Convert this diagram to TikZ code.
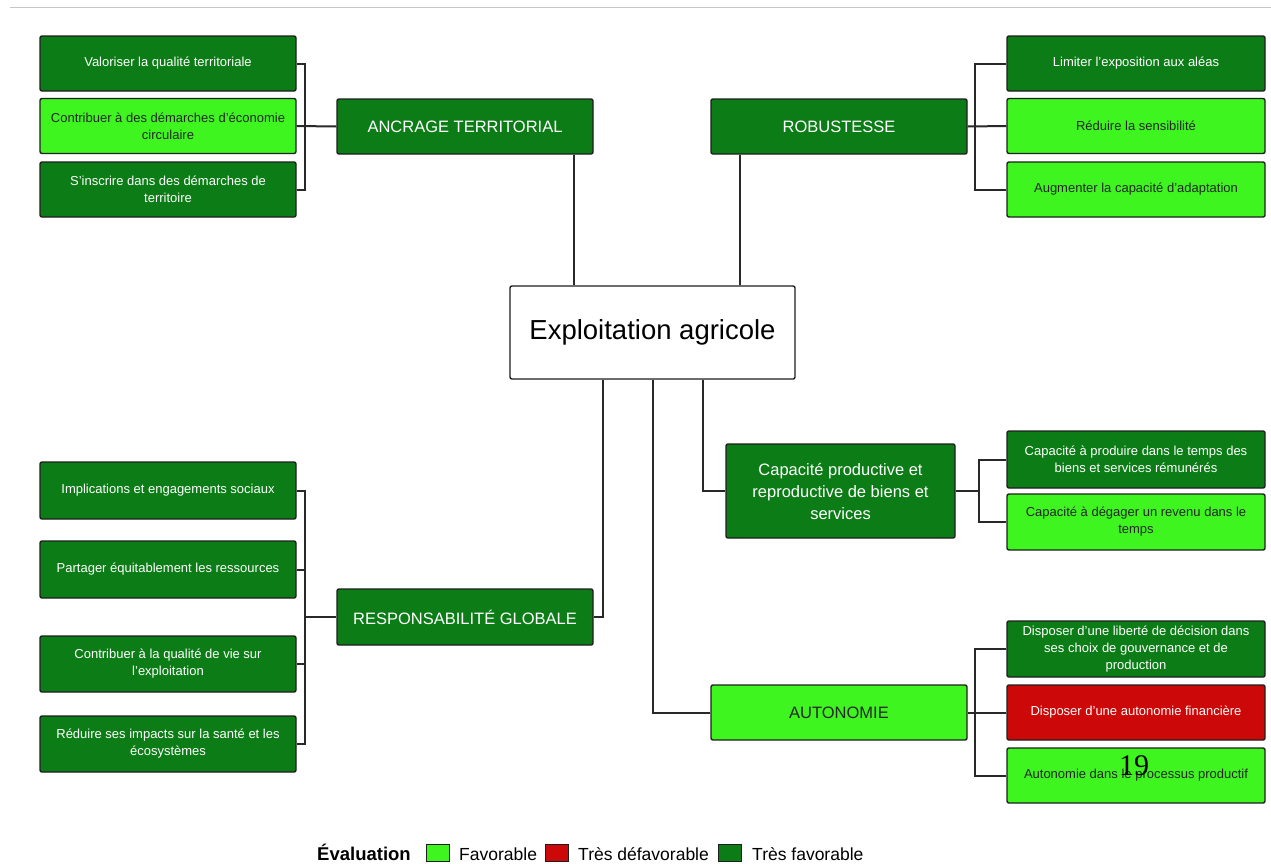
\documentclass[tikz,border=0pt]{standalone}
\usepackage{fontspec}
\setmainfont{Liberation Sans}
\newfontfamily\pagenumfont{Liberation Serif}
\definecolor{dkg}{RGB}{12,125,22}
\definecolor{ltg}{RGB}{62,245,32}
\definecolor{rdb}{RGB}{205,8,8}
\definecolor{edge}{RGB}{30,30,30}
\definecolor{conn}{RGB}{40,40,40}
\tikzset{
  box/.style={draw=edge, line width=1.4pt, rounded corners=2pt, align=center, inner sep=2pt},
  small/.style={box, minimum width=256, minimum height=55, font=\fontsize{13}{17}\selectfont},
  head/.style={box, minimum width=256, minimum height=55, font=\fontsize{16.5}{22}\selectfont},
  dark/.style={fill=dkg, text=white},
  light/.style={fill=ltg, text=black!85},
  bad/.style={fill=rdb, text=white},
  link/.style={draw=conn, line width=2pt},
  legbox/.style={draw=edge, line width=1pt, minimum width=23, minimum height=17, inner sep=0pt},
  legtext/.style={anchor=base west, font=\fontsize{17.5}{20}\selectfont, inner sep=0pt}
}
\begin{document}
\begin{tikzpicture}[x=1pt, y=-1pt]
\useasboundingbox (0,0) rectangle (1271,863);
\coordinate (tl) at (10,7);
\coordinate (tr) at (1271,7);
\draw[gray!45, line width=1pt] (tl) -- (tr);

% centre
\node[box, fill=white, minimum width=285, minimum height=93, font=\fontsize{27.5}{30}\selectfont] (ctr) at (652.5,332.5) {Exploitation agricole};

% ANCRAGE TERRITORIAL
\node[head, dark] (anc) at (465,126.5) {ANCRAGE TERRITORIAL};
\node[small, dark] (v1) at (168,63.5) {Valoriser la qualité territoriale};
\node[small, light] (v2) at (168,126) {Contribuer à des démarches d'économie\\circulaire};
\node[small, dark] (v3) at (168,189.5) {S'inscrire dans des démarches de\\territoire};

% ROBUSTESSE
\node[head, dark] (rob) at (839,126.5) {ROBUSTESSE};
\node[small, dark, minimum width=258] (r1) at (1136,63.5) {Limiter l'exposition aux aléas};
\node[small, light, minimum width=258] (r2) at (1136,126) {Réduire la sensibilité};
\node[small, light, minimum width=258] (r3) at (1136,189.5) {Augmenter la capacité d'adaptation};

% Capacité productive
\node[head, dark, minimum width=229, minimum height=94] (cap) at (840.5,491) {Capacité productive et\\reproductive de biens et\\services};
\node[small, dark, minimum width=258, minimum height=57] (c1) at (1136,459.5) {Capacité à produire dans le temps des\\biens et services rémunérés};
\node[small, light, minimum width=258, minimum height=56] (c2) at (1136,522) {Capacité à dégager un revenu dans le\\temps};

% RESPONSABILITE GLOBALE
\node[head, dark, minimum height=56] (resp) at (465,617) {RESPONSABILITÉ GLOBALE};
\node[small, dark, minimum height=57] (l1) at (168,490.5) {Implications et engagements sociaux};
\node[small, dark, minimum height=57] (l2) at (168,569.5) {Partager équitablement les ressources};
\node[small, dark, minimum height=56] (l3) at (168,664) {Contribuer à la qualité de vie sur\\l'exploitation};
\node[small, dark, minimum height=56] (l4) at (168,744) {Réduire ses impacts sur la santé et les\\écosystèmes};

% AUTONOMIE
\node[head, light] (aut) at (839,712.5) {AUTONOMIE};
\node[small, dark, minimum width=258, minimum height=56] (a1) at (1136,649) {Disposer d'une liberté de décision dans\\ses choix de gouvernance et de\\production};
\node[small, bad, minimum width=258] (a2) at (1136,712.5) {Disposer d'une autonomie financière};
\node[small, light, minimum width=258] (a3) at (1136,775.5) {Autonomie dans le processus productif};

% junctions
\coordinate (jA) at (305,126);
\coordinate (jR) at (975,126);
\coordinate (jC) at (979,491);
\coordinate (jL) at (305,617);
\coordinate (jU) at (975,712.5);

% connectors
\draw[link] (v1.east) -| (jA);
\draw[link] (v3.east) -| (jA);
\draw[link] (v2.east) -- (anc.west);
\draw[link] ([xshift=-20pt]anc.south east) -- ([xshift=-20pt]anc.south east |- ctr.north);
\draw[link] ([xshift=30pt]rob.south west) -- ([xshift=30pt]rob.south west |- ctr.north);
\draw[link] (rob.east) -- (r2.west);
\draw[link] (r1.west) -| (jR);
\draw[link] (r3.west) -| (jR);
\draw[link] ([xshift=50pt]ctr.south) |- (cap.west);
\draw[link] (ctr.south) |- (aut.west);
\draw[link] ([xshift=-50pt]ctr.south) |- (resp.east);
\draw[link] (cap.east) -- (jC);
\draw[link] (c1.west) -| (jC);
\draw[link] (c2.west) -| (jC);
\draw[link] (resp.west) -- (jL);
\draw[link] (l1.east) -| (jL);
\draw[link] (l2.east) -| (jL);
\draw[link] (l3.east) -| (jL);
\draw[link] (l4.east) -| (jL);
\draw[link] (aut.east) -- (a2.west);
\draw[link] (a1.west) -| (jU);
\draw[link] (a3.west) -| (jU);

% page number
\node[font=\pagenumfont\fontsize{30}{30}\selectfont, inner sep=0pt] (pg) at (1134,766) {19};

% legend
\node[legtext, font=\bfseries\fontsize{18.5}{20}\selectfont] (ev) at (317,860) {Évaluation};
\node[legbox, fill=ltg] (lb1) at (438,853) {};
\node[legtext] (lt1) at (459,860) {Favorable};
\node[legbox, fill=rdb] (lb2) at (557,853) {};
\node[legtext] (lt2) at (578,860) {Très défavorable};
\node[legbox, fill=dkg] (lb3) at (730,853) {};
\node[legtext] (lt3) at (752,860) {Très favorable};
\end{tikzpicture}
\end{document}
